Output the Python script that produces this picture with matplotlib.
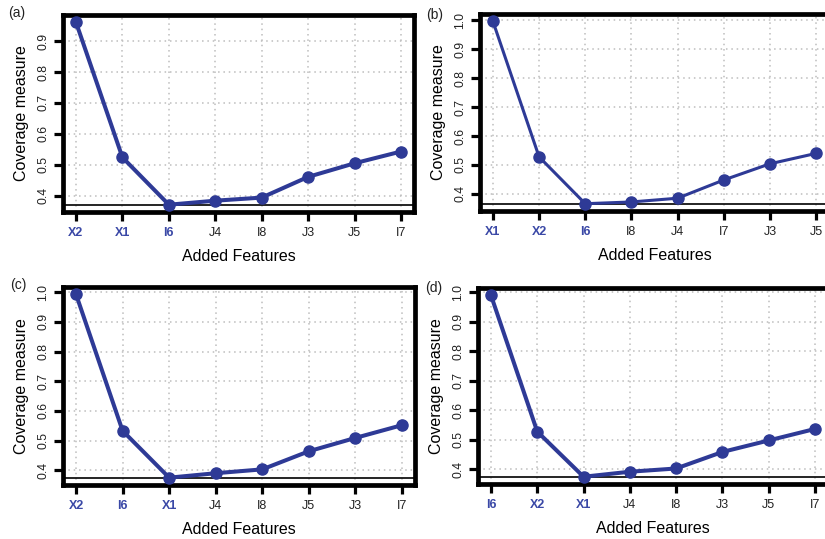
import matplotlib
matplotlib.use("Agg")
import matplotlib.pyplot as plt

plt.rcParams['font.family'] = ['Liberation Sans', 'DejaVu Sans']

# ---- data ----
labels_a = ["X2", "X1", "I6", "J4", "I8", "J3", "J5", "I7"]
values_a = [0.961, 0.524, 0.371, 0.384, 0.394, 0.461, 0.505, 0.543]

labels_b = ["X1", "X2", "I6", "I8", "J4", "I7", "J3", "J5"]
values_b = [0.997, 0.528, 0.366, 0.372, 0.385, 0.448, 0.504, 0.540]

labels_c = ["X2", "I6", "X1", "J4", "I8", "J5", "J3", "I7"]
values_c = [0.993, 0.533, 0.375, 0.390, 0.403, 0.464, 0.509, 0.552]

labels_d = ["I6", "X2", "X1", "J4", "I8", "J3", "J5", "I7"]
values_d = [0.990, 0.528, 0.375, 0.392, 0.403, 0.459, 0.498, 0.537]

highlighted = {"X1", "X2", "I6"}
panel_names = ["(a)", "(b)", "(c)", "(d)"]
yticks_a = [0.4, 0.5, 0.6, 0.7, 0.8, 0.9]
yticks_other = [0.4, 0.5, 0.6, 0.7, 0.8, 0.9, 1.0]

LINE_COLOR = "#2E3A96"
LABEL_BLUE = "#3A48A6"
W, H = 825, 539

fig = plt.figure(figsize=(W / 100, H / 100), dpi=100)

# pixel boxes: left, right, top, bottom
boxes = [(63, 414, 15, 212), (480, 829, 14, 211),
         (63, 415, 287, 485), (478, 828, 288, 484)]
panels = [(labels_a, values_a, yticks_a, 2.9),
          (labels_b, values_b, yticks_other, 2.2),
          (labels_c, values_c, yticks_other, 2.9),
          (labels_d, values_d, yticks_other, 2.9)]
label_pos = [(8, 13), (426, 15), (10, 285), (425, 288)]

for (l, r, t, b), (labs, vals, yt, lw), name, (lx, ly) in zip(boxes, panels, panel_names, label_pos):
    ax = fig.add_axes([l / W, 1 - b / H, (r - l) / W, (b - t) / H])
    x = list(range(len(labs)))
    n = len(labs) - 1
    ax.set_xlim(-0.04 * n, n + 0.04 * n)
    lo, hi = min(vals), max(vals)
    rng = hi - lo
    ax.set_ylim(lo - 0.04 * rng, hi + 0.04 * rng)

    for v in yt:
        ax.axhline(v, color="#BDBDBD", lw=1.1, ls=(0, (1, 2.5)), zorder=0)
    for xi in x:
        ax.axvline(xi, color="#BDBDBD", lw=1.1, ls=(0, (1, 2.5)), zorder=0)

    ax.axhline(lo, color="black", lw=1.2, zorder=1)
    ax.plot(x, vals, color=LINE_COLOR, lw=lw, marker="o", ms=8, zorder=3,
            clip_on=False)

    ax.set_xticks(x)
    ax.set_xticklabels(labs, fontsize=9)
    for tl, lab in zip(ax.get_xticklabels(), labs):
        if lab in highlighted:
            tl.set_color(LABEL_BLUE)
            tl.set_fontweight("bold")
        else:
            tl.set_color("#222222")
    ax.set_yticks(yt)
    ax.set_yticklabels([f"{v:.1f}" for v in yt], fontsize=8.7, rotation=90,
                       va="center", color="#222222")
    ax.tick_params(axis="both", length=6.5, width=2.3, direction="out",
                   color="black")
    ax.tick_params(axis="x", pad=4.5)
    ax.tick_params(axis="y", pad=3.5)
    for sp in ax.spines.values():
        sp.set_linewidth(3.4)
        sp.set_color("black")
    ax.set_xlabel("Added Features", fontsize=11.5, labelpad=7)
    ax.set_ylabel("Coverage measure", fontsize=11.5, labelpad=6)
    fig.text(lx / W, 1 - ly / H, name, fontsize=10, ha="left", va="center",
             color="#222222")

fig.savefig("out.png", dpi=100)
